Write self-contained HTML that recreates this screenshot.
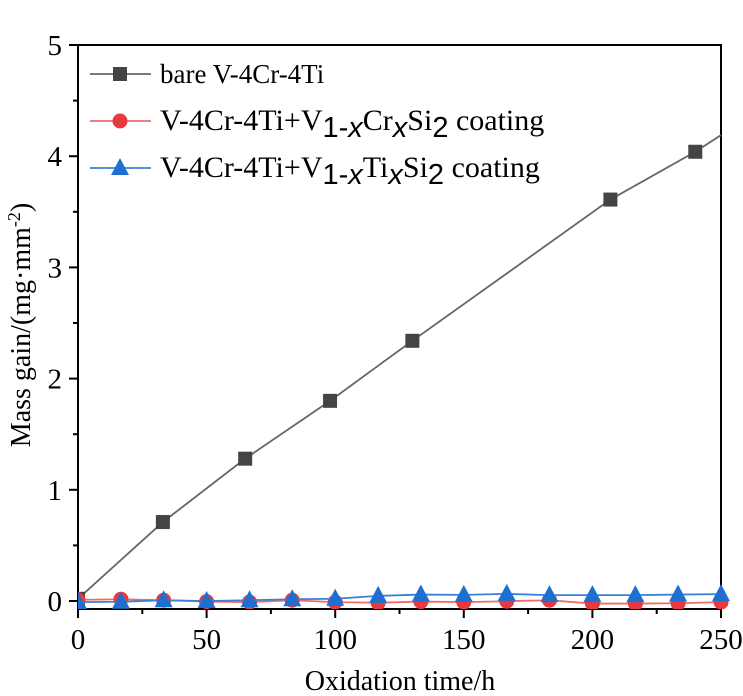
<!DOCTYPE html>
<html><head><meta charset="utf-8"><style>
html,body{margin:0;padding:0;background:#fff;}
svg{display:block;font-family:"Liberation Serif",serif;}
</style></head><body>
<svg id="chart" width="743" height="696"></svg>
<script>
const timeBare = [0, 33, 65, 98, 130, 207, 240, 250];
const massBare = [0.02, 0.71, 1.28, 1.80, 2.34, 3.61, 4.04, 4.19];
const timeCoat = [0, 16.7, 33.3, 50, 66.7, 83.3, 100, 116.7, 133.3, 150, 166.7, 183.3, 200, 216.7, 233.3, 250];
const massCr = [0.01, 0.016, 0.007, -0.005, -0.01, 0.007, -0.01, -0.016, -0.005, -0.01, -0.002, 0.007, -0.023, -0.023, -0.02, -0.01];
const massTi = [-0.01, -0.007, 0.007, 0, 0.007, 0.016, 0.02, 0.046, 0.058, 0.055, 0.064, 0.053, 0.053, 0.053, 0.058, 0.062];
const xTicks = [0, 50, 100, 150, 200, 250];
const yTicks = [0, 1, 2, 3, 4, 5];

const NS = "http://www.w3.org/2000/svg";
const svg = document.getElementById('chart');
const X0 = 78, X1 = 721, Y0 = 601, YTOP = 45, AXB = 609;
const xs = v => X0 + (v / 250) * (X1 - X0);
const ys = v => Y0 - v * 111.2;
function mk(tag, attrs, parent) {
  const e = document.createElementNS(NS, tag);
  for (const k in attrs) e.setAttribute(k, attrs[k]);
  (parent || svg).appendChild(e);
  return e;
}
const clip = mk('clipPath', {id: 'plotclip'});
mk('rect', {x: X0, y: YTOP - 10, width: X1 - X0 + 10, height: AXB - YTOP + 10}, clip);

const frame = mk('rect', {x: X0, y: YTOP, width: X1 - X0, height: AXB - YTOP, fill: 'none', stroke: '#000', 'stroke-width': 2});



for (let v = 0; v <= 250; v += 25) {
  const major = v % 50 === 0;
  const t = mk('line', {x1: xs(v), x2: xs(v), y1: AXB, y2: AXB + (major ? 9 : 5), stroke: '#000', 'stroke-width': 2});
  
  
}
xTicks.forEach(v => {
  const t = mk('text', {x: xs(v), y: 649, 'font-size': 29, 'text-anchor': 'middle'});
  t.textContent = v;
  
  
});
for (let v = 0; v <= 5; v += 0.5) {
  const major = Math.abs(v - Math.round(v)) < 1e-6;
  const t = mk('line', {x1: X0, x2: X0 - (major ? 9 : 5), y1: ys(v), y2: ys(v), stroke: '#000', 'stroke-width': 2});
  
  
}
yTicks.forEach(v => {
  const t = mk('text', {x: 62, y: ys(v) + 10, 'font-size': 29, 'text-anchor': 'end'});
  t.textContent = v;
  
  
});
const xt = mk('text', {x: 400, y: 690, 'font-size': 28, 'text-anchor': 'middle'});
xt.textContent = 'Oxidation time/h';


const yt = mk('text', {x: 0, y: 0, 'font-size': 28, 'text-anchor': 'middle', transform: 'translate(30,325) rotate(-90)'});
yt.innerHTML = 'Mass gain/(mg·mm<tspan dy="-10" font-size="18">-2</tspan><tspan dy="10">)</tspan>';



function marker(kind, cx, cy, color, parent) {
  let m;
  if (kind === 'sq') m = mk('rect', {x: cx - 7, y: cy - 7, width: 14, height: 14, fill: color}, parent);
  else if (kind === 'ci') m = mk('circle', {cx: cx, cy: cy, r: 7.5, fill: color}, parent);
  else m = mk('polygon', {points: `${cx},${cy - 10} ${cx + 9},${cy + 7} ${cx - 9},${cy + 7}`, fill: color}, parent);
  return m;
}
function series(xsArr, ysArr, color, lineColor, kind, name, skipLastMarker) {
  const g = mk('g', {'clip-path': 'url(#plotclip)'});
  
  
  const pts = xsArr.map((x, i) => xs(x) + ',' + ys(ysArr[i])).join(' ');
  mk('polyline', {points: pts, fill: 'none', stroke: lineColor, 'stroke-width': 1.8}, g);
  xsArr.forEach((x, i) => {
    if (skipLastMarker && i === xsArr.length - 1) return;
    const m = marker(kind, xs(x), ys(ysArr[i]), color, g);
    
    
  });
}
series(timeBare, massBare, '#444', '#666', 'sq', 'series-bare', true);
series(timeCoat, massCr, '#e8393e', '#ef6b6e', 'ci', 'series-cr-coating', false);
series(timeCoat, massTi, '#1f6fd0', '#3a80d4', 'tr', 'series-ti-coating', false);

const S = '<tspan dy="7" font-size="29" font-family="Liberation Sans, sans-serif">';
const leg = [
  {y: 73, c: '#444', lc: '#666', k: 'sq', fs: 27, html: 'bare V-4Cr-4Ti'},
  {y: 120, c: '#e8393e', lc: '#ef6b6e', k: 'ci', fs: 30, html: 'V-4Cr-4Ti+V' + S + '1-<tspan font-style="italic">x</tspan></tspan><tspan dy="-7">Cr</tspan>' + S + '<tspan font-style="italic">x</tspan></tspan><tspan dy="-7">Si</tspan>' + S + '2</tspan><tspan dy="-7"> coating</tspan>'},
  {y: 167, c: '#1f6fd0', lc: '#3a80d4', k: 'tr', fs: 30, html: 'V-4Cr-4Ti+V' + S + '1-<tspan font-style="italic">x</tspan></tspan><tspan dy="-7">Ti</tspan>' + S + '<tspan font-style="italic">x</tspan></tspan><tspan dy="-7">Si</tspan>' + S + '2</tspan><tspan dy="-7"> coating</tspan>'}
];
leg.forEach(l => {
  const g = mk('g', {});
  
  
  mk('line', {x1: 90, x2: 151, y1: l.y + 1, y2: l.y + 1, stroke: l.lc, 'stroke-width': 1.8}, g);
  marker(l.k, 120, l.y + 1, l.c, g);
  const t = mk('text', {x: 160, y: l.y + 10, 'font-size': l.fs}, g);
  t.innerHTML = l.html;
});
</script>
</body></html>
